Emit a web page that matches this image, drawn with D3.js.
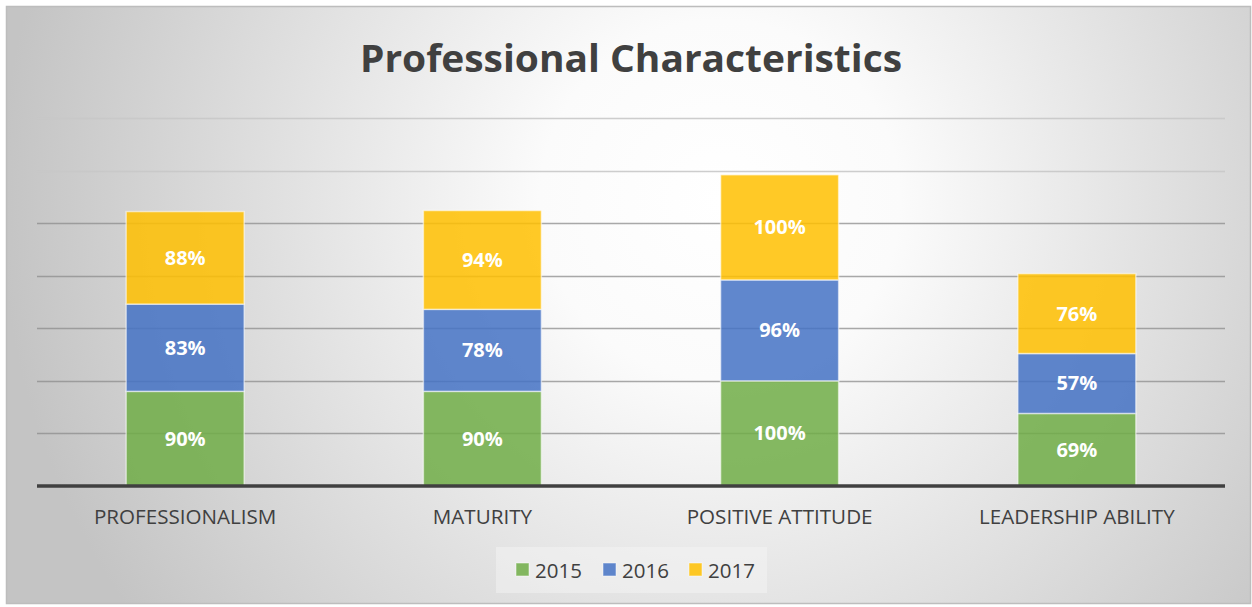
<!DOCTYPE html>
<html>
<head>
<meta charset="utf-8">
<script src="https://cdn.jsdelivr.net/npm/d3@7"></script>
<style>
    html, body { margin: 0; padding: 0; background: #ffffff; }
    svg text { font-family: "Open Sans", "Noto Sans", sans-serif; }
</style>
</head>
<body>
<div class="chart"></div>
<script>
// chart data
const categories = ["PROFESSIONALISM", "MATURITY", "POSITIVE ATTITUDE", "LEADERSHIP ABILITY"];
const seriesNames = ["2015", "2016", "2017"];
const values2015 = [90, 90, 100, 69];
const values2016 = [83, 78, 96, 57];
const values2017 = [88, 94, 100, 76];
const gridTicks = [0, 50, 100, 150, 200, 250, 300, 350];
const colors = ["#70AD47", "#4472C4", "#FFC000"];

const width = 1252, height = 607;
const margin = { top: 118, right: 27, bottom: 121, left: 37 };
const chartWidth = width - margin.left - margin.right;
const chartHeight = height - margin.top - margin.bottom;

// build rows for d3.stack
const rows = categories.map((c, i) => ({
    cat: c, "2015": values2015[i], "2016": values2016[i], "2017": values2017[i]
}));
const stacked = d3.stack().keys(seriesNames)(rows);

const svg = d3.select(".chart").append("svg")
    .attr("width", width)
    .attr("height", height);

// background gradient like the office chart area
const defs = svg.append("defs");
const grad = defs.append("radialGradient")
    .attr("id", "bg")
    .attr("gradientUnits", "userSpaceOnUse")
    .attr("cx", 720).attr("cy", 200).attr("r", 720);
grad.append("stop").attr("offset", "0%").attr("stop-color", "#ffffff");
grad.append("stop").attr("offset", "25%").attr("stop-color", "#fbfbfb");
grad.append("stop").attr("offset", "100%").attr("stop-color", "#c4c4c4");

svg.append("rect")
    .attr("x", 6.5).attr("y", 6.5)
    .attr("width", 1244).attr("height", 597)
    .attr("fill", "url(#bg)")
    .attr("stroke", "#bdbdbd")
    .attr("stroke-width", 1.5);

// title
svg.append("text")
    .attr("x", 631).attr("y", 72)
    .attr("text-anchor", "middle")
    .attr("font-size", 38)
    .attr("font-weight", "bold")
    .attr("fill", "#404040")
    .attr("textLength", 542)
    .attr("lengthAdjust", "spacingAndGlyphs")
    .text("Professional Characteristics");

const g = svg.append("g")
    .attr("transform", `translate(${margin.left}, ${margin.top})`);

const xScale = d3.scaleBand()
    .domain(categories)
    .range([0, chartWidth])
    .paddingInner(0.603)
    .paddingOuter(0.3);

const yScale = d3.scaleLinear()
    .domain([0, 350])
    .range([chartHeight, 0]);

// gridlines
g.append("g")
    .attr("class", "grid")
    .selectAll("line")
    .data(gridTicks.slice(1))
    .enter().append("line")
    .attr("x1", 0).attr("x2", chartWidth)
    .attr("y1", d => Math.round(yScale(d)) + 0.5)
    .attr("y2", d => Math.round(yScale(d)) + 0.5)
    .attr("stroke", d => d >= 300 ? "#c8c8c8" : "#8c8c8c")
    .attr("stroke-opacity", d => d >= 300 ? 0.9 : 0.75)
    .attr("stroke-width", 1.3);

// stacked bars
const layer = g.selectAll(".layer")
    .data(stacked)
    .enter().append("g")
    .attr("class", "layer")
    .attr("fill", (d, i) => colors[i]);

layer.selectAll("rect")
    .data(d => d)
    .enter().append("rect")
    .attr("x", d => xScale(d.data.cat))
    .attr("y", d => yScale(d[1]))
    .attr("width", xScale.bandwidth())
    .attr("height", d => yScale(d[0]) - yScale(d[1]))
    .attr("fill-opacity", 0.85)
    .attr("stroke", "#ffffff")
    .attr("stroke-opacity", 0.55)
    .attr("stroke-width", 1.5);

// data labels
layer.selectAll("text")
    .data(d => d)
    .enter().append("text")
    .attr("x", d => xScale(d.data.cat) + xScale.bandwidth() / 2)
    .attr("y", d => (yScale(d[0]) + yScale(d[1])) / 2 + 7)
    .attr("text-anchor", "middle")
    .attr("font-size", 20)
    .attr("font-weight", "bold")
    .attr("fill", "#ffffff")
    .text(d => `${d[1] - d[0]}%`);

// baseline
g.append("line")
    .attr("x1", 0).attr("x2", chartWidth)
    .attr("y1", yScale(0)).attr("y2", yScale(0))
    .attr("stroke", "#404040")
    .attr("stroke-width", 3.5);

// category labels
const xAxis = g.append("g")
    .attr("class", "x axis")
    .attr("transform", `translate(0, ${chartHeight})`)
    .call(d3.axisBottom(xScale).tickSize(0).tickPadding(0));
xAxis.select(".domain").remove();
xAxis.selectAll("text")
    .attr("y", 38)
    .attr("dy", 0)
    .attr("font-size", 20.6)
    .attr("font-family", "\"Open Sans\", sans-serif")
    .attr("fill", "#404040");

// legend
const legend = svg.append("g").attr("class", "legend");
legend.append("rect")
    .attr("x", 496).attr("y", 547)
    .attr("width", 271).attr("height", 46)
    .attr("fill", "#f7f7f7")
    .attr("fill-opacity", 0.45);

const legendX = [516, 603, 689];
const item = legend.selectAll(".item")
    .data(seriesNames)
    .enter().append("g")
    .attr("class", "item")
    .attr("transform", (d, i) => `translate(${legendX[i]}, 563)`);
item.append("rect")
    .attr("width", 13).attr("height", 13)
    .attr("fill", (d, i) => colors[i])
    .attr("fill-opacity", 0.85)
    .attr("stroke", "#ffffff")
    .attr("stroke-opacity", 0.5);
item.append("text")
    .attr("x", 19).attr("y", 14.5)
    .attr("font-size", 20.5)
    .attr("fill", "#404040")
    .text(d => d);
</script>
</body>
</html>
